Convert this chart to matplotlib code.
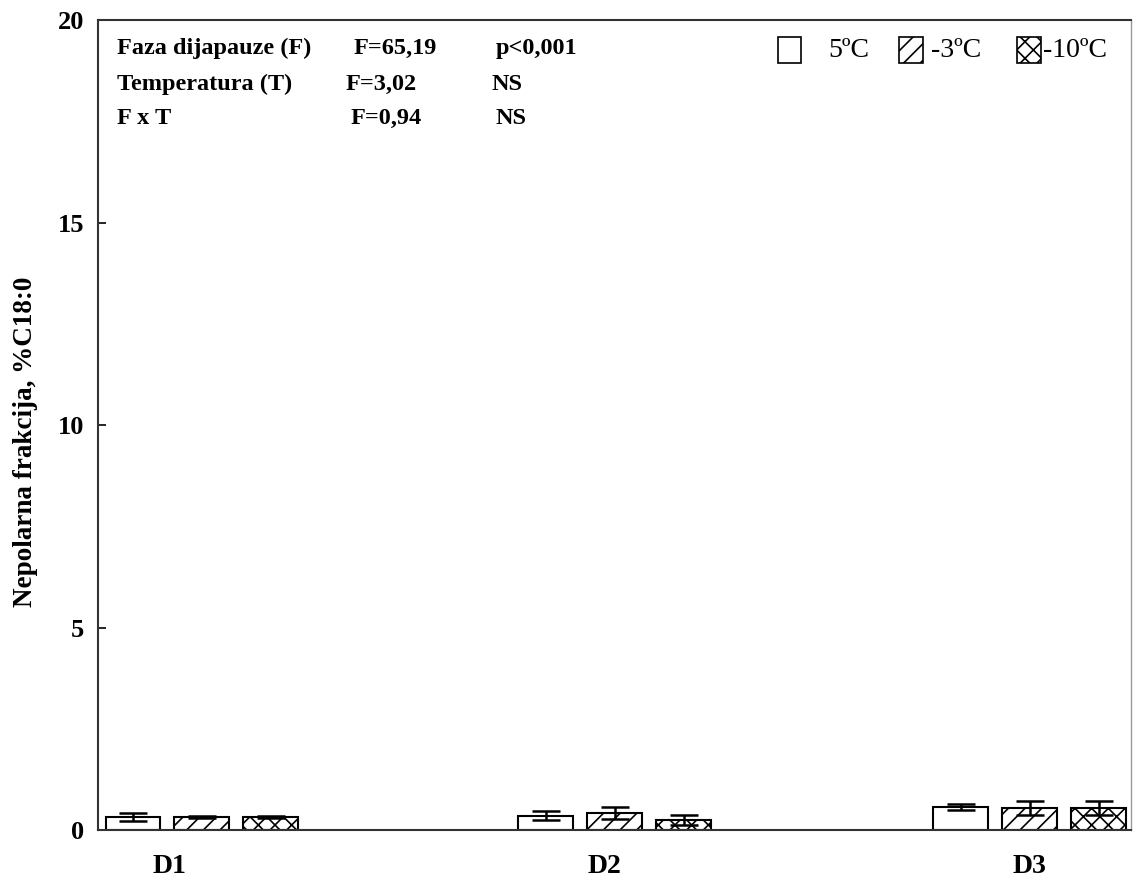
import numpy as np
import matplotlib.pyplot as plt
from matplotlib.patches import Rectangle

# podaci
faze = ['D1', 'D2', 'D3']
temperature = ['5ºC', '-3ºC', '-10ºC']
srednje = [[0.32, 0.35, 0.57],   # 5ºC
           [0.32, 0.42, 0.54],   # -3ºC
           [0.32, 0.25, 0.54]]   # -10ºC
greske = [[0.10, 0.11, 0.07],
          [0.03, 0.14, 0.18],
          [0.03, 0.13, 0.18]]
polozaj_grupa = [1.04, 5.17, 9.32]
polozaj_oznaka = [0.72, 5.07, 9.32]
srafure = ['', '//', 'xx']

plt.rcParams['font.family'] = ['Liberation Serif', 'DejaVu Serif']
plt.rcParams['hatch.linewidth'] = 1.2

fig = plt.figure(figsize=(11.33, 8.77), dpi=100)
ax = fig.add_axes([0.0865, 0.0536, 0.9115, 0.9235])

x = np.array(polozaj_grupa)
sirina = 0.55
razmak = 0.69
for i in range(3):
    ax.bar(x + (i - 1) * razmak, srednje[i], sirina, yerr=greske[i],
           color='white', edgecolor='black', linewidth=1.5, hatch=srafure[i],
           error_kw=dict(ecolor='black', elinewidth=1.8, capsize=10, capthick=1.8))

ax.set_xlim(0, 10.33)
ax.set_ylim(0, 20)
ax.set_xticks(polozaj_oznaka)
ax.set_xticklabels(faze, fontsize=20, fontweight='bold')
ax.set_yticks([0, 5, 10, 15, 20])
ax.set_yticklabels(['0', '5', '10', '15', '20'], fontsize=19, fontweight='bold')
ax.tick_params(axis='x', length=0, pad=17)
ax.tick_params(axis='y', direction='in', length=6, width=1.2, pad=10)
for s in ax.spines.values():
    s.set_linewidth(1.5)
    s.set_color('#333333')
ax.spines['right'].set_color('#999999')
ax.spines['right'].set_linewidth(1)
ax.set_ylabel('Nepolarna frakcija, %C18:0', fontsize=19.5, fontweight='bold')
ax.yaxis.set_label_coords(-0.058, 0.479)

# statistika
red1 = ['Faza dijapauze (F)', 'F=65,19', 'p<0,001']
red2 = ['Temperatura (T)', 'F=3,02', 'NS']
red3 = ['F x T', 'F=0,94', 'NS']
kolone = [[0.018, 0.247, 0.385], [0.018, 0.240, 0.381], [0.018, 0.245, 0.385]]
visine = [0.965, 0.921, 0.879]
for red, kol, yv in zip([red1, red2, red3], kolone, visine):
    for tekst, xk in zip(red, kol):
        ax.text(xk, yv, tekst, transform=ax.transAxes, fontsize=17.5,
                fontweight='bold', va='center', ha='left')

# legenda
leg_x = [0.658, 0.776, 0.890]
for xk, tekst, h in zip(leg_x, temperature, srafure):
    ax.add_patch(Rectangle((xk, 0.9472), 0.023, 0.032, transform=ax.transAxes,
                           facecolor='white', edgecolor='black', linewidth=1.2,
                           hatch=h, clip_on=False))
tekst_x = [0.707, 0.807, 0.915]
for xk, tekst in zip(tekst_x, temperature):
    ax.text(xk, 0.963, tekst, transform=ax.transAxes, fontsize=20,
            va='center', ha='left')

fig.savefig('out.png', dpi=100)
